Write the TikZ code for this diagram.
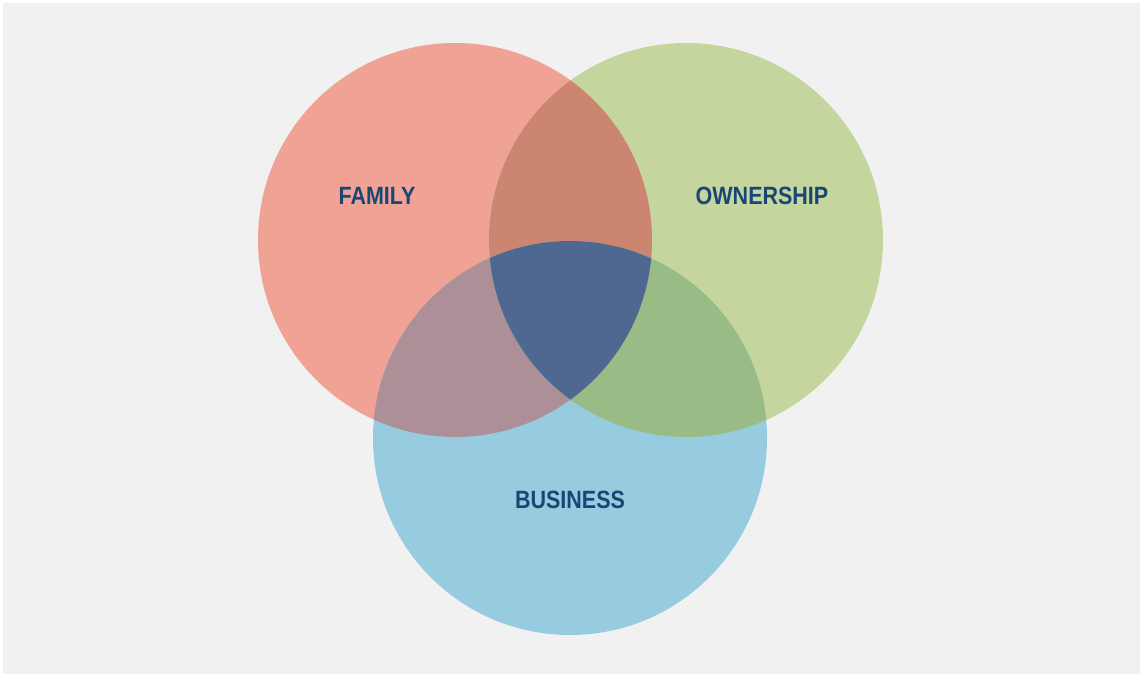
\documentclass[tikz,border=0pt]{standalone}
\usepackage{fontspec}
\setmainfont{Liberation Sans}
\begin{document}
\definecolor{bgfill}{HTML}{F1F1F1}
\definecolor{famcol}{HTML}{F0A295}
\definecolor{owncol}{HTML}{C4D59E}
\definecolor{buscol}{HTML}{97CCE0}
\definecolor{focol}{HTML}{CC8571}
\definecolor{fbcol}{HTML}{AD8F98}
\definecolor{obcol}{HTML}{99BB86}
\definecolor{allcol}{HTML}{4F6891}
\definecolor{labelcol}{HTML}{1A4676}
\begin{tikzpicture}[x=1pt,y=-1pt,
  setlabel/.style={text=labelcol,font=\bfseries\fontsize{25}{25}\selectfont,inner sep=0pt}]
\newcommand{\setname}[1]{\scalebox{0.86}[1]{#1}}
% canvas
\fill[white] (0,0) rectangle (1140,674);
\fill[bgfill] (3,3) rectangle (1140,674);
\useasboundingbox (0,0) rectangle (1140,674);
% the three sets
\def\famC{(455,240)}
\def\ownC{(686,240)}
\def\busC{(570,438)}
\def\rad{197}
\fill[famcol] \famC circle (\rad);
\fill[owncol] \ownC circle (\rad);
\fill[buscol] \busC circle (\rad);
% pairwise overlaps
\begin{scope}
  \clip \famC circle (\rad);
  \fill[focol] \ownC circle (\rad);
  \fill[fbcol] \busC circle (\rad);
\end{scope}
\begin{scope}
  \clip \ownC circle (\rad);
  \fill[obcol] \busC circle (\rad);
\end{scope}
% common core
\begin{scope}
  \clip \famC circle (\rad);
  \clip \ownC circle (\rad);
  \fill[allcol] \busC circle (\rad);
\end{scope}
% labels
\node[setlabel] (family) at (377,196) {\setname{FAMILY}};
\node[setlabel] (ownership) at (762,196) {\setname{OWNERSHIP}};
\node[setlabel] (business) at (570,500) {\setname{BUSINESS}};
\end{tikzpicture}
\end{document}
